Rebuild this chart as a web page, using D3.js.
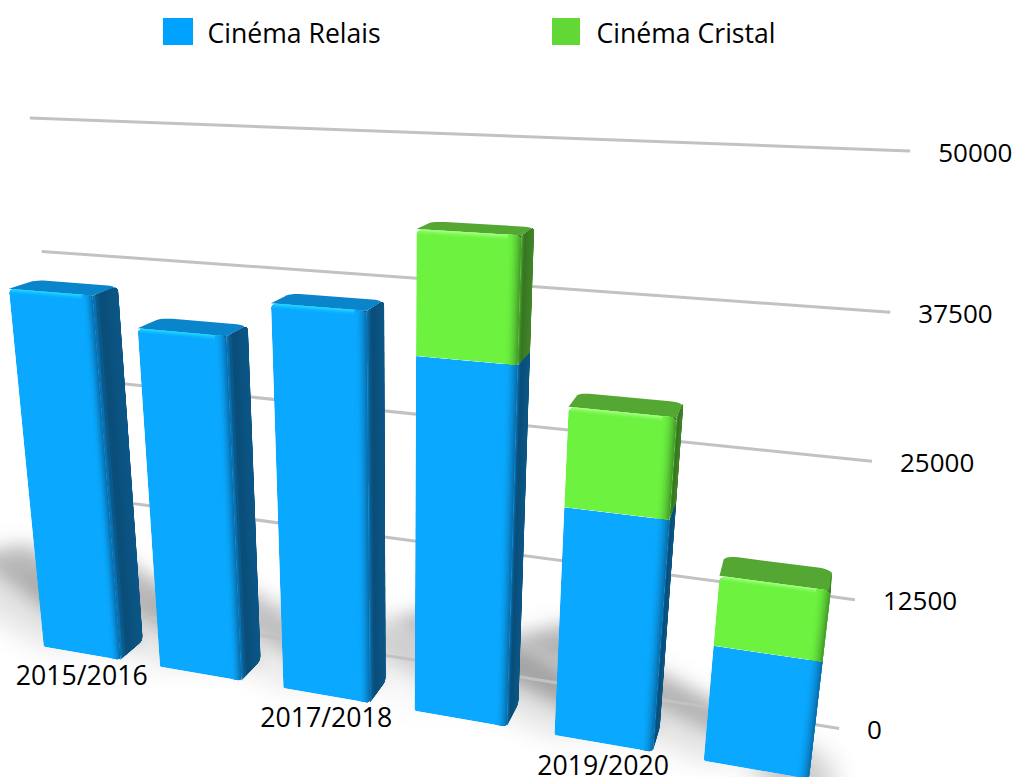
<!DOCTYPE html>
<html><head><meta charset="utf-8">
<script src="https://cdn.jsdelivr.net/npm/d3@7/dist/d3.min.js"></script>
<style>html,body{margin:0;padding:0;background:#fff;overflow:hidden}text{font-family:"Open Sans",sans-serif;fill:#000}</style>
</head><body><svg id="c" width="1015" height="777"></svg>
<script>
// ---- data ----
const categories = ["2015/2016","2016/2017","2017/2018","2018/2019","2019/2020","2020/2021"];
const categoryLabels = ["2015/2016","","2017/2018","","2019/2020",""];
const relais  = [35800,33200,36400,32950,21300,10800];
const cristal = [0,0,0,10400,8600,6240];
const valueTicks = [0,12500,25000,37500,50000];
const seriesNames = ["Cinéma Relais","Cinéma Cristal"];
const legendColors = ["#00a2ff","#61d836"];

// ---- perspective camera (vanishing points) ----
const VX=[-3857,-28], VY=[400,4300], VZ=[860,16], O=[73,605];
const A=-0.1633, B=-0.11645, C=-0.0605;
function project(X,Y,Z){
  const a=A*X,b=B*Y,c=C*Z,w=a+b+c+1;
  return [(a*VX[0]+b*VY[0]+c*VZ[0]+O[0])/w,(a*VX[1]+b*VY[1]+c*VZ[1]+O[1])/w];
}
const xBand=d3.scaleBand().domain(categories).range([0.004,0.9975]).paddingInner(1/3).paddingOuter(1/6);
const yVal=d3.scaleLinear().domain([0,50000]).range([0,1]);
const ZF=1, ZB=0.53;

const svg=d3.select("#c");
const defs=svg.append("defs");
[["blur",8],["blur2",15]].forEach(([id,s])=>defs.append("filter").attr("id",id)
  .attr("filterUnits","userSpaceOnUse").attr("x",-300).attr("y",0).attr("width",1500).attr("height",900)
  .append("feGaussianBlur").attr("stdDeviation",s));
const line=d3.line();
const poly=pts=>line(pts)+"Z";

function rounded(u0,v0,u1,v1,ru,rv,r,m){ // r=[c00,c10,c11,c01] corner factors
  const pts=[],N=6;
  const arc=(cu,cv,f,a0)=>{for(let i=0;i<=N;i++){const t=a0+i/N*Math.PI/2;
    pts.push(m(cu+Math.cos(t)*ru*f,cv+Math.sin(t)*rv*f));}};
  arc(u0+ru*r[0],v0+rv*r[0],r[0],Math.PI);
  arc(u1-ru*r[1],v0+rv*r[1],r[1],1.5*Math.PI);
  arc(u1-ru*r[2],v1-rv*r[2],r[2],0);
  arc(u0+ru*r[3],v1-rv*r[3],r[3],.5*Math.PI);
  return poly(pts);
}

// ---- shadows: bands on the floor running back and to the left of each base ----
const shadowStrength=[0.95,0.85,0.75,0.3,1,1];
const SDX=0.32, SDZ=1.9;
const shadowG=svg.append("g");
categories.forEach((cat,i)=>{
  const x0=xBand(cat),x1=x0+xBand.bandwidth(),s=shadowStrength[i];
  const far=(x,z,t)=>project(x-SDX*t,0,z-SDZ*t);
  shadowG.append("path").attr("filter","url(#blur2)").attr("fill","#000").attr("opacity",0.12*s)
    .attr("d",poly([project(x0,0,ZF),project(x1,0,ZB),far(x1,ZB,1),far(x0,ZF+.6,1)]));
  shadowG.append("path").attr("filter","url(#blur)").attr("fill","#000").attr("opacity",0.2*s)
    .attr("d",poly([project(x1,0,ZB),far(x1,ZB,1),far(x1-.06,ZB+.55,1),project(x1-.05,0,ZB+.2)]));
  if(i===categories.length-1){
    shadowG.append("path").attr("filter","url(#blur2)").attr("fill","#000").attr("opacity",0.24)
      .attr("d",poly([project(x1-.05,0,ZB),project(x1+.012,0,ZB),project(x1+.03,0,ZF+.3),project(x1-.05,0,ZF+.3)]));
  }
});

// ---- grid ----
svg.append("g").selectAll("line").data(valueTicks).join("line")
  .attr("x1",d=>project(0,yVal(d),0)[0]).attr("y1",d=>project(0,yVal(d),0)[1])
  .attr("x2",d=>project(0.999,yVal(d),0)[0]).attr("y2",d=>project(0.999,yVal(d),0)[1])
  .attr("stroke","#c2c2c2").attr("stroke-width",3);

// ---- bars ----
const palette=[
 {front:"#0aa9ff",hi:"#25d8ff",edge:"#0a6fae",side:"#0a4d78",side2:"#0b5686",top:"#0a84ca"},
 {front:"#6cf23f",hi:"#a6ff85",edge:"#479f2b",side:"#377423",side2:"#408527",top:"#55a733"}
];
let clipN=0;
function shadeFront(g,x0,x1,y0,y1,p,hasTop,isBottom){
  const cid="c"+(++clipN), dX=0.014, S=10;
  const m=(u,v)=>project(u,v,ZF);
  g.append("path").attr("fill",p.side).attr("d",poly([m(x1-.012,y0+(isBottom?.01:0)),m(x1,y0+(isBottom?.01:0)),m(x1,y1),m(x1-.012,y1)]));
  defs.append("clipPath").attr("id",cid).append("path")
    .attr("d",rounded(x0,y0,x1,y1,0.008,0.011,[isBottom?.35:0,isBottom?.7:.35,hasTop?1:0,hasTop?1:0],m));
  const f=g.append("g").attr("clip-path",`url(#${cid})`);
  f.append("path").attr("fill",p.front).attr("d",poly([m(x0,y0),m(x1,y0),m(x1,y1),m(x0,y1)]));
  if(hasTop){
    const H=0.0105;
    d3.range(S).forEach(k=>{
      const a=y1-H*(1-k/S);
      f.append("path").attr("fill",d3.interpolateRgb(p.front,p.hi)(Math.pow((k+1)/S,2)))
        .attr("d",poly([m(x0,a),m(x1,a),m(x1,y1),m(x0,y1)]));
    });
  }
  d3.range(S).forEach(k=>{
    const a=x1-dX*(1-k/S);
    f.append("path").attr("fill",d3.interpolateRgb(p.front,p.edge)(Math.pow((k+1)/S,2)))
      .attr("d",poly([m(a,y0),m(x1,y0),m(x1,y1),m(a,y1)]));
  });
}
function shadeSide(g,x1,y0,y1,p,hasTop,isBottom){
  const cid="c"+(++clipN), S=8;
  const m=(z,v)=>project(x1,v,z);
  defs.append("clipPath").attr("id",cid).append("path")
    .attr("d",rounded(ZB,y0,ZF,y1,0.08,0.012,[isBottom?1:0,0,0,hasTop?1:0],m));
  const f=g.append("g").attr("clip-path",`url(#${cid})`);
  const ramp=t=>t<.22?d3.interpolateRgb(p.edge,p.side)(t/.22):d3.interpolateRgb(p.side,p.side2)((t-.22)/.78);
  d3.range(S).forEach(k=>{
    const a=ZF+.01-(ZF+.01-ZB)*k/S;
    f.append("path").attr("fill",ramp(k/(S-1)))
      .attr("d",poly([m(a,y0),m(ZB,y0),m(ZB,y1),m(a,y1)]));
  });
}
const barsG=svg.append("g");
categories.forEach((cat,i)=>{
  const g=barsG.append("g");
  const x0=xBand(cat),x1=x0+xBand.bandwidth();
  const v0=yVal(relais[i]),v1=yVal(relais[i]+cristal[i]);
  const stacked=cristal[i]>0, topP=palette[stacked?1:0];
  const mTop=(u,z)=>project(u,v1,z);
  g.append("path").attr("fill",topP.top)
    .attr("d",rounded(x0,ZB,x1,ZF,0.014,0.1,[1,1,0,0],mTop));
  shadeSide(g,x1,0,v0,palette[0],!stacked,true);
  if(stacked) shadeSide(g,x1,v0,v1,palette[1],true,false);
  shadeFront(g,x0,x1,0,v0,palette[0],!stacked,true);
  if(stacked) shadeFront(g,x0,x1,v0,v1,palette[1],true,false);
});

// ---- labels ----
svg.append("g").selectAll("text").data(valueTicks).join("text")
  .attr("x",d=>project(1,yVal(d),0)[0]+27).attr("y",d=>project(1,yVal(d),0)[1]+10.5)
  .attr("font-size",26).text(d=>d);
svg.append("g").selectAll("text").data(categories).join("text")
  .attr("text-anchor","middle")
  .attr("x",d=>project(xBand(d)+xBand.bandwidth()/2,0,ZF)[0])
  .attr("y",d=>project(xBand(d)+xBand.bandwidth()/2,0,ZF)[1]+31.5)
  .attr("font-size",26.7).text((d,i)=>categoryLabels[i]);

// ---- legend ----
const legendX=d3.scalePoint().domain(seriesNames).range([163,552]);
const lg=svg.append("g").selectAll("g").data(seriesNames).join("g")
  .attr("transform",d=>`translate(${legendX(d)},0)`);
lg.append("rect").attr("y",18).attr("height",27).attr("width",(d,i)=>i?28:30).attr("fill",(d,i)=>legendColors[i]);
lg.append("text").attr("x",44.5).attr("y",43).attr("font-size",26.6).text(d=>d);
</script></body></html>
